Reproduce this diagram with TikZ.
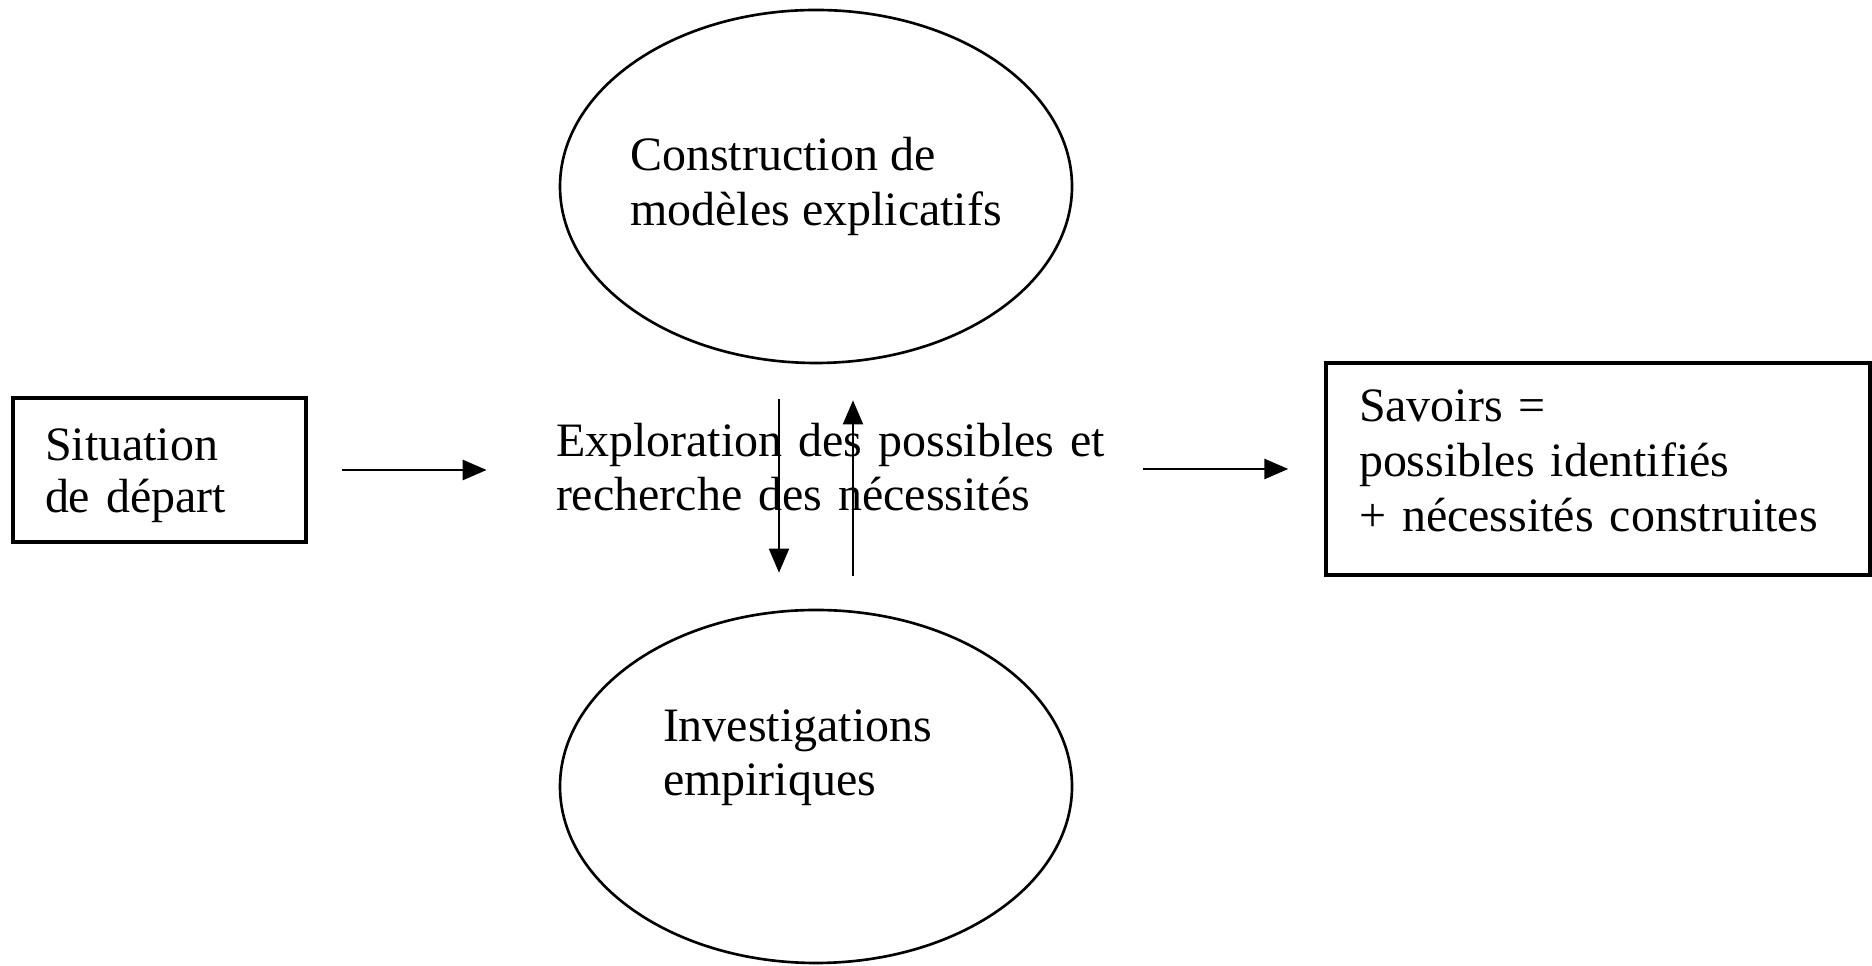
\documentclass[tikz,border=0pt]{standalone}
\usepackage{fontspec}
\setmainfont{Liberation Serif}
\usetikzlibrary{arrows.meta,shapes.geometric}

\tikzset{
    cadre/.style={draw, line width=2pt, align=left, inner ysep=0pt},
    bulle/.style={draw, ellipse, line width=1.5pt, minimum width=10.24cm, minimum height=7.06cm, inner xsep=-0.5cm, inner ysep=0pt, align=left},
    fleche/.style={-{Triangle[length=0.48cm,width=0.40cm]}, line width=1.1pt},
}

\begin{document}
\begin{tikzpicture}[font=\fontsize{27.3pt}{30.7pt}\selectfont]
    \useasboundingbox (0,0) rectangle (37.44,19.32);

    \node[cadre, minimum width=5.86cm, minimum height=2.88cm, text width=4.58cm, inner xsep=0.64cm, font=\fontsize{27.3pt}{29.4pt}\selectfont] (depart) at (3.19,9.92) {\rule{0pt}{0.86cm}Situation\\de départ};

    \node[align=left, text width=11.4cm, inner sep=0pt] (explo) at (16.82,9.97) {Exploration des possibles et\\recherche des nécessités};

    \node[cadre, minimum width=10.88cm, minimum height=4.24cm, text width=9.56cm, inner xsep=0.66cm, font=\fontsize{27.3pt}{31.5pt}\selectfont] (savoirs) at (31.96,9.94) {Savoirs =\\possibles identifiés\\+ nécessités construites\rule[-0.33cm]{0pt}{0.33cm}};

    \node[bulle, font=\fontsize{27.3pt}{31.3pt}\selectfont] (modeles) at (16.32,15.59) {Construction de\\modèles explicatifs};
    \node[bulle, text width=6.12cm] (investig) at (16.32,3.59) {Investigations\\empiriques\rule[-1.36cm]{0pt}{1.36cm}};

    \draw[fleche, line width=1.6pt, shorten <=0.68cm, shorten >=1.38cm] (depart.east) -- (depart.east -| explo.west);
    \draw[fleche, line width=1.6pt, shorten <=0.34cm, shorten >=0.72cm] (savoirs.west -| explo.east) -- (savoirs.west);

    \draw[fleche, shorten <=0.70cm, shorten >=0.72cm] ([xshift=-0.74cm]modeles.south) -- ([xshift=-0.74cm]investig.north);
    \draw[fleche, shorten <=0.66cm, shorten >=0.72cm] ([xshift=0.74cm]investig.north) -- ([xshift=0.74cm]modeles.south);
\end{tikzpicture}
\end{document}
